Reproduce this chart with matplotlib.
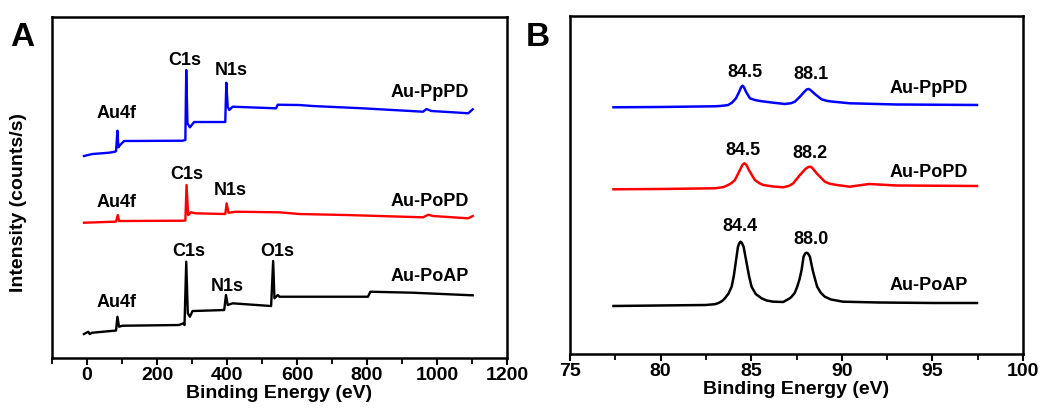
import matplotlib
matplotlib.use("Agg")
import matplotlib.pyplot as plt
from matplotlib.ticker import MultipleLocator

plt.rcParams['font.family'] = ['Liberation Sans', 'DejaVu Sans']
plt.rcParams['font.weight'] = 'bold'

# ---- survey spectra (panel A), binding energy in eV, intensity in arbitrary units ----
ppd_a_x = [-8.6, 15, 63, 80, 83, 86.9, 89.8, 94.5, 106, 273, 281, 283.5, 287, 294, 306,
           395, 398, 402, 406.6, 416, 540, 545, 607, 645, 788, 960, 970, 984, 1065, 1089, 1102]
ppd_a_y = [202, 204, 205.3, 206.3, 207, 227.3, 210.7, 213, 217, 217.3, 218, 288, 234.7, 230.7, 236,
           236, 275.3, 251.3, 248, 251.3, 249.7, 253.3, 253, 252, 249.7, 246.3, 249, 247, 245.3, 244.7, 248.7]

opd_a_x = [-8.6, 77, 83, 88, 91.6, 273, 281, 284.4, 289, 297, 311, 395, 399, 404, 426,
           550, 607, 741, 960, 975, 989, 1089, 1102]
opd_a_y = [135.3, 136.3, 136.5, 143, 137, 137.3, 137.5, 173, 143, 145.7, 144.7, 144, 154.7, 145.3, 146.3,
           145.7, 144, 143, 140.7, 143.3, 142, 139.7, 142]

oap_a_x = [-8.6, 3.8, 7.6, 15, 77, 83, 86.9, 91.6, 101, 263, 275, 278.6, 283.5, 288, 294, 301.5,
           392, 397, 402, 416, 526, 531.8, 535.5, 545, 550, 802.7, 809.5, 931.6, 1102]
oap_a_y = [24, 26.3, 24, 25.3, 27.3, 27.5, 41.3, 31.3, 32.3, 33, 34.7, 33, 96.3, 44.7, 41.3, 47,
           48, 63, 53, 54.7, 52, 97, 59.7, 63, 61.3, 61.3, 66.3, 65.3, 62.7]

# ---- Au 4f high-resolution spectra (panel B) ----
ppd_b_x = [77.4, 80, 83.0, 83.27, 83.5, 83.73, 83.95, 84.16, 84.34, 84.44, 84.52, 84.6, 84.71, 84.93,
           85.2, 85.48, 86.21, 86.86, 87.2, 87.41, 87.69, 87.92, 88.07, 88.17, 88.27, 88.51, 88.88,
           89.2, 89.52, 90.44, 93, 97.46]
ppd_b_y = [246.7, 247, 247.7, 248, 248.4, 249, 251.5, 255.7, 262.3, 266.7, 268.3, 266.8, 262.3, 255.7,
           254, 253, 251.3, 250, 250.8, 252.3, 257.3, 262, 264.6, 265, 264, 260, 254.7,
           253, 252.3, 250.7, 249.5, 249]

opd_b_x = [77.4, 80, 83, 83.45, 83.73, 83.92, 84.1, 84.38, 84.52, 84.62, 84.74, 84.87, 85.2, 85.45,
           85.66, 86.2, 86.77, 87.1, 87.32, 87.69, 87.98, 88.15, 88.24, 88.35, 88.61, 89.06, 89.35,
           89.71, 90.44, 91.5, 93, 97.46]
opd_b_y = [164.7, 165, 165.7, 166.8, 169, 171, 174, 184, 189.2, 190.7, 189, 184, 174, 170.8,
           169, 167.5, 166.7, 168.2, 170.7, 179, 184.8, 187, 187.3, 186.5, 180.7, 172.3, 170.2,
           169, 167.3, 170, 168.5, 168]

oap_b_x = [77.4, 80.0, 82.5, 83.0, 83.2, 83.4, 83.55, 83.75, 83.92, 84.04, 84.14, 84.27, 84.35,
           84.41, 84.48, 84.58, 84.75, 84.88, 85.02, 85.25, 85.57, 85.85, 86.21, 86.77, 87.13,
           87.23, 87.4, 87.54, 87.67, 87.78, 87.89, 87.98, 88.05, 88.13, 88.24, 88.39, 88.52,
           88.64, 88.83, 89.06, 89.4, 90.07, 92, 95, 97.46]
oap_b_y = [48, 48.5, 49, 49.8, 51, 53, 55.7, 60.5, 67.3, 78, 90.7, 107.3, 111,
           112.3, 111.2, 107.3, 90.7, 78, 67.3, 60, 55.7, 53.5, 52.3, 52, 55.7,
           57.3, 61, 67.3, 75, 84, 97.3, 100.6, 101.3, 100.6, 97.3, 84, 75,
           67.3, 61.5, 57.3, 54.5, 52.3, 51.5, 51, 51]

samples = ['Au-PpPD', 'Au-PoPD', 'Au-PoAP']
colors = ['#0000ff', '#ff0000', '#000000']

# peak labels: (text, x, y)
labels_a = [('Au4f', 84, 244.7), ('C1s', 278, 298), ('N1s', 411.5, 287.3),
            ('Au4f', 84, 155.3), ('C1s', 285.5, 184), ('N1s', 408.6, 167.3),
            ('Au4f', 84, 55.3), ('C1s', 290, 107), ('N1s', 400, 72), ('O1s', 543, 106.3)]
labels_b = [('84.5', 84.65, 281.3), ('88.1', 88.28, 279),
            ('84.5', 84.53, 203), ('88.2', 88.24, 200),
            ('84.4', 84.38, 127.3), ('88.0', 88.28, 114.7)]
sample_y_a = [265.3, 156.3, 81.3]
sample_y_b = [265.7, 181.3, 68]

fig = plt.figure(figsize=(10.42, 4.12), dpi=100)
ax1 = fig.add_axes([0.0499, 0.131, 0.4367, 0.8277])
ax2 = fig.add_axes([0.547, 0.1408, 0.4348, 0.8204])

for ax in (ax1, ax2):
    for s in ax.spines.values():
        s.set_linewidth(1.8)
    ax.set_yticks([])
    ax.tick_params(axis='x', which='major', direction='out', length=5, width=1.5, labelsize=14, pad=1.5)
    ax.tick_params(axis='x', which='minor', direction='out', length=4, width=1.3)
    ax.set_xlabel('Binding Energy (eV)', fontsize=14, fontweight='bold', labelpad=1)

# panel A
for xs, ys, c in zip([ppd_a_x, opd_a_x, oap_a_x], [ppd_a_y, opd_a_y, oap_a_y], colors):
    ax1.plot(xs, ys, color=c, lw=1.7)
ax1.set_xlim(-100, 1200)
ax1.set_ylim(0, 341)
ax1.xaxis.set_major_locator(MultipleLocator(200))
ax1.xaxis.set_minor_locator(MultipleLocator(100))
ax1.set_ylabel('Intensity (counts/s)', fontsize=14, fontweight='bold')
ax1.yaxis.set_label_coords(-0.055, 0.457)
for t, x, y in labels_a:
    ax1.text(x, y, t, ha='center', va='center', fontsize=13, fontweight='bold')
for name, y in zip(samples, sample_y_a):
    ax1.text(1092, y, name, ha='right', va='center', fontsize=13, fontweight='bold')

# panel B
for xs, ys, c in zip([ppd_b_x, opd_b_x, oap_b_x], [ppd_b_y, opd_b_y, oap_b_y], colors):
    ax2.plot(xs, ys, color=c, lw=1.8)
ax2.set_xlim(75, 100)
ax2.set_ylim(0, 338)
ax2.xaxis.set_major_locator(MultipleLocator(5))
ax2.xaxis.set_minor_locator(MultipleLocator(2.5))
for t, x, y in labels_b:
    ax2.text(x, y, t, ha='center', va='center', fontsize=13, fontweight='bold')
for name, y in zip(samples, sample_y_b):
    ax2.text(96.97, y, name, ha='right', va='center', fontsize=13, fontweight='bold')

for ax in (ax1, ax2):
    for lab in ax.get_xticklabels():
        lab.set_fontweight('bold')

fig.text(0.021, 0.91, 'A', fontsize=24, fontweight='bold', ha='center', va='center')
fig.text(0.516, 0.91, 'B', fontsize=24, fontweight='bold', ha='center', va='center')

fig.savefig('out.png', dpi=100)
